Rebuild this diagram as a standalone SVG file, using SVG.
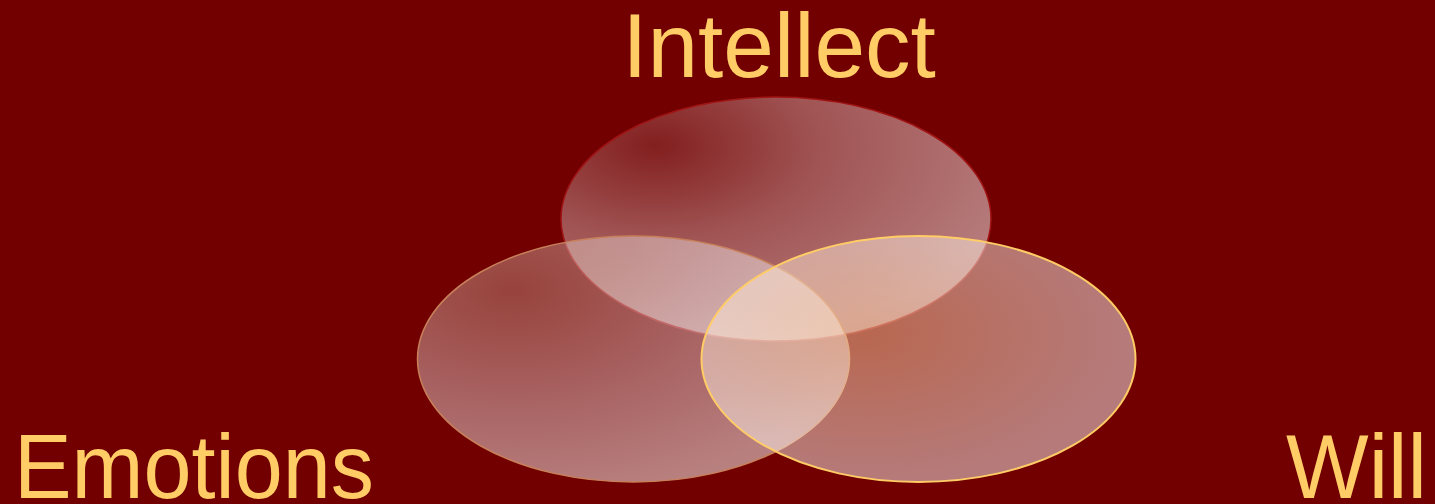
<svg xmlns="http://www.w3.org/2000/svg" width="1435" height="504" viewBox="0 0 1435 504">
<style>
.lbl{font-family:"Liberation Sans",Arial,sans-serif;font-size:91px;fill:#FFCC66}
</style>
<defs>
<radialGradient id="gTop" cx="0.22" cy="0.2" r="0.85" fx="0.22" fy="0.2">
<stop offset="0" stop-color="#ffffff" stop-opacity="0.12"/>
<stop offset="0.45" stop-color="#ffffff" stop-opacity="0.33"/>
<stop offset="1" stop-color="#ffffff" stop-opacity="0.48"/>
</radialGradient>
<radialGradient id="gLeft" cx="0.22" cy="0.22" r="0.85" fx="0.22" fy="0.22">
<stop offset="0" stop-color="#faf0d8" stop-opacity="0.28"/>
<stop offset="0.5" stop-color="#ffffff" stop-opacity="0.38"/>
<stop offset="1" stop-color="#ffffff" stop-opacity="0.5"/>
</radialGradient>
<radialGradient id="gRight" cx="0.38" cy="0.4" r="0.6" fx="0.38" fy="0.4">
<stop offset="0" stop-color="#ffcfa0" stop-opacity="0.5"/>
<stop offset="1" stop-color="#ffffff" stop-opacity="0.48"/>
</radialGradient>
</defs>
<rect x="0" y="0" width="1435" height="504" fill="#720000"/>
<g id="intellect">
<ellipse cx="776" cy="219" rx="215" ry="122" fill="url(#gTop)" stroke="#a01414" stroke-width="1.5"/>
<text class="lbl" x="779" y="77" text-anchor="middle">Intellect</text>
</g>
<g id="emotions">
<ellipse cx="633.5" cy="359" rx="216" ry="123" fill="url(#gLeft)" stroke="#c8805a" stroke-width="1.5"/>
<text class="lbl" x="14" y="498" textLength="360" lengthAdjust="spacingAndGlyphs">Emotions</text>
</g>
<g id="will">
<ellipse cx="918.5" cy="359" rx="217" ry="123" fill="url(#gRight)" stroke="#ffcc66" stroke-width="2"/>
<text class="lbl" x="1286" y="498" textLength="141" lengthAdjust="spacingAndGlyphs">Will</text>
</g>
<g id="connectors"/>
</svg>
